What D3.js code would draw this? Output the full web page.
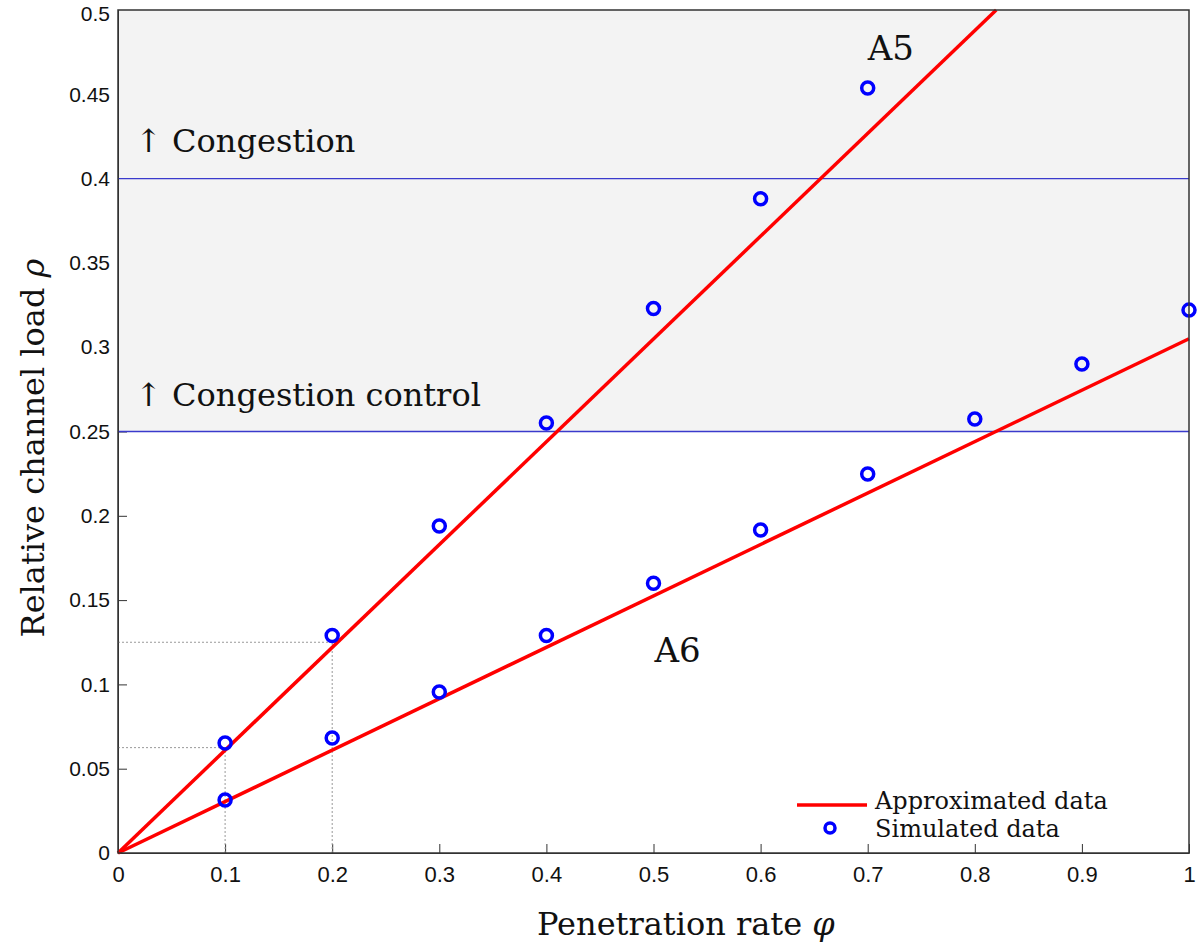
<!DOCTYPE html>
<html>
<head>
<meta charset="utf-8">
<script src="https://cdn.jsdelivr.net/npm/d3@7"></script>
<style>
  body { margin: 0; background: #fff; }
  .tick text { font-family: "Liberation Sans", Arial, sans-serif; }
</style>
</head>
<body>
<script>
// data
const phi = [0.1, 0.2, 0.3, 0.4, 0.5, 0.6, 0.7, 0.8, 0.9, 1.0];
const simA5 = [0.0652, 0.129, 0.194, 0.255, 0.323, 0.388, 0.4537];
const simA6 = [0.0314, 0.0682, 0.0955, 0.129, 0.160, 0.1916, 0.2248, 0.2574, 0.290, 0.322];
const approxA5 = [[0, 0], [0.82, 0.5]];
const approxA6 = [[0, 0], [1, 0.305]];
const thresholds = [0.25, 0.4];
const guidePhi = [0.1, 0.2];
const guideRho = [0.0625, 0.125];
const xTicks = [0, 0.1, 0.2, 0.3, 0.4, 0.5, 0.6, 0.7, 0.8, 0.9, 1];
const yTicks = [0, 0.05, 0.1, 0.15, 0.2, 0.25, 0.3, 0.35, 0.4, 0.45, 0.5];

const W = 1200, H = 946;
const margin = { top: 10, right: 11, bottom: 93, left: 118 };
const plotW = W - margin.left - margin.right;
const plotH = H - margin.top - margin.bottom;
const serif = '"DejaVu Serif", "Liberation Serif", serif';

const svg = d3.select('body').append('svg')
    .attr('width', W)
    .attr('height', H);
const g = svg.append('g')
    .attr('transform', `translate(${margin.left},${margin.top})`);

const x = d3.scaleLinear().domain([0, 1]).range([0, plotW]);
const y = d3.scaleLinear().domain([0, 0.5]).range([plotH, 0]);

// axes with inward ticks
g.append('g')
    .attr('transform', `translate(0,${plotH})`)
    .call(d3.axisBottom(x).tickValues(xTicks).tickSizeInner(-9).tickSizeOuter(0).tickPadding(13)
        .tickFormat(d => d === 0 ? '0' : d === 1 ? '1' : d3.format('.1f')(d)))
    .call(a => a.selectAll('.tick text').attr('font-size', 22).attr('fill', '#111'))
    .call(a => a.selectAll('line, path').attr('stroke', '#333'));
g.append('g')
    .call(d3.axisLeft(y).tickValues(yTicks).tickSizeInner(-9).tickSizeOuter(0).tickPadding(8)
        .tickFormat(d => d === 0 ? '0' : String(+d.toFixed(2))))
    .call(a => a.selectAll('.tick text').attr('font-size', 21).attr('fill', '#111'))
    .call(a => a.selectAll('.tick text').filter(d => d === 0.5).attr('dy', '0.5em'))
    .call(a => a.selectAll('line, path').attr('stroke', '#333'));

// shaded congestion region
g.append('rect')
    .attr('x', 1).attr('y', y(0.5))
    .attr('width', plotW - 1)
    .attr('height', y(thresholds[0]) - y(0.5))
    .attr('fill', '#f3f3f3');

g.selectAll('.thr')
    .data(thresholds)
    .enter().append('line')
    .attr('class', 'thr')
    .attr('x1', 0).attr('x2', plotW)
    .attr('y1', d => y(d)).attr('y2', d => y(d))
    .attr('stroke', '#3a3acc')
    .attr('stroke-width', 1.3);

// dotted guides
guidePhi.forEach((p, i) => {
    g.append('line')
        .attr('x1', x(0)).attr('x2', x(p))
        .attr('y1', y(guideRho[i])).attr('y2', y(guideRho[i]))
        .attr('stroke', '#999').attr('stroke-width', 1).attr('stroke-dasharray', '2,2');
    g.append('line')
        .attr('x1', x(p)).attr('x2', x(p))
        .attr('y1', y(0)).attr('y2', y(guideRho[i]))
        .attr('stroke', '#999').attr('stroke-width', 1).attr('stroke-dasharray', '2,2');
});

// approximated lines
const line = d3.line().x(d => x(d[0])).y(d => y(d[1]));
[approxA5, approxA6].forEach(data => {
    g.append('path')
        .datum(data)
        .attr('d', line)
        .attr('fill', 'none')
        .attr('stroke', '#ff0000')
        .attr('stroke-width', 3.5);
});

// simulated points
const pts = simA5.map((v, i) => [phi[i], v]).concat(simA6.map((v, i) => [phi[i], v]));
g.selectAll('.sim')
    .data(pts)
    .enter().append('circle')
    .attr('class', 'sim')
    .attr('cx', d => x(d[0]))
    .attr('cy', d => y(d[1]))
    .attr('r', 6)
    .attr('fill', 'none')
    .attr('stroke', '#0000ff')
    .attr('stroke-width', 3.5);

// box
g.append('rect')
    .attr('width', plotW).attr('height', plotH)
    .attr('fill', 'none')
    .attr('stroke', '#333')
    .attr('stroke-width', 1.5);

// annotations
const note = (txt, px, py, size) => g.append('text')
    .attr('x', x(px)).attr('y', y(py))
    .attr('font-family', serif)
    .attr('font-size', size)
    .attr('fill', '#111')
    .text(txt);
note('\u2191 Congestion', 0.016, 0.4158, 32);
note('\u2191 Congestion control', 0.016, 0.2651, 32);
note('A5', 0.700, 0.4705, 34);
note('A6', 0.501, 0.1133, 34);

// legend
const lg = g.append('g').attr('transform', `translate(${x(0.634)},${y(0.0285)})`);
lg.append('line').attr('x1', 0).attr('x2', 70).attr('y1', 0).attr('y2', 0)
    .attr('stroke', '#ff0000').attr('stroke-width', 3.5);
lg.append('circle').attr('cx', 33).attr('cy', 23).attr('r', 5)
    .attr('fill', 'none').attr('stroke', '#0000ff').attr('stroke-width', 3.5);
lg.append('text').attr('x', 78).attr('y', 4)
    .attr('font-family', serif).attr('font-size', 24).attr('fill', '#111')
    .text('Approximated data');
lg.append('text').attr('x', 78).attr('y', 32)
    .attr('font-family', serif).attr('font-size', 24).attr('fill', '#111')
    .text('Simulated data');

// axis titles
svg.append('text')
    .attr('x', 537)
    .attr('y', 935)
    .attr('font-family', serif).attr('font-size', 32).attr('fill', '#111')
    .html('Penetration rate <tspan font-style="italic">\u03c6</tspan>');
svg.append('text')
    .attr('transform', `translate(44,448) rotate(-90)`)
    .attr('text-anchor', 'middle')
    .attr('font-family', serif).attr('font-size', 32).attr('fill', '#111')
    .html('Relative channel load <tspan font-style="italic">\u03c1</tspan>');
</script>
</body>
</html>
